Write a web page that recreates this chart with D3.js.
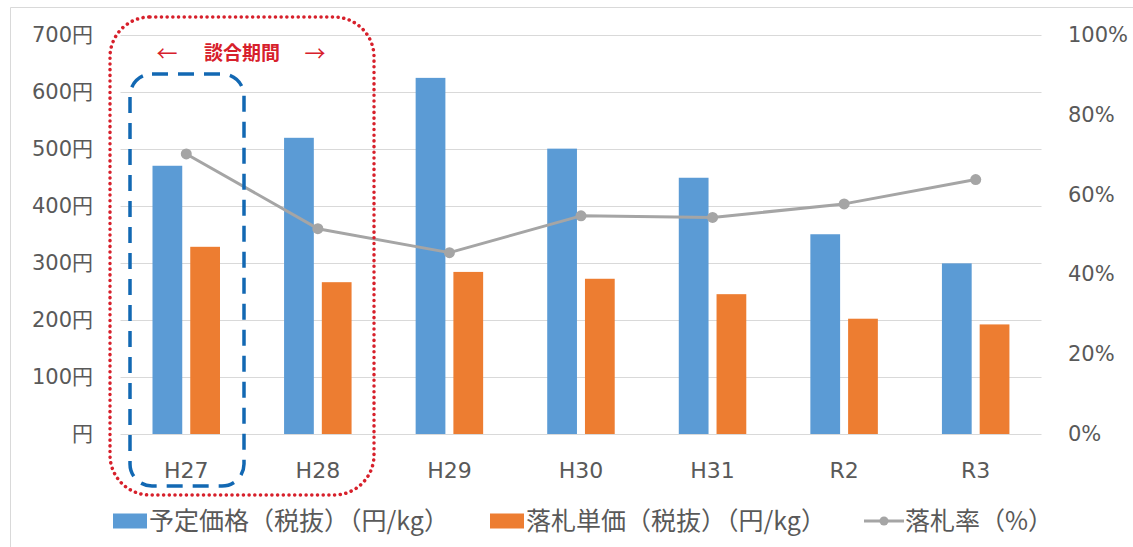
<!DOCTYPE html>
<html>
<head>
<meta charset="utf-8">
<script src="https://cdn.jsdelivr.net/npm/d3@7"></script>
<style>
  html, body { margin: 0; padding: 0; background: #fff; }
  svg text { font-family: "Noto Sans CJK JP", "Noto Sans", sans-serif; fill: #595959; }
  svg .axis text { font-family: "DejaVu Sans", "Noto Sans CJK JP", sans-serif; }
</style>
</head>
<body>
<svg id="chart" width="1133" height="547"></svg>
<script>
// Data
const categories = ["H27", "H28", "H29", "H30", "H31", "R2", "R3"];
const plannedPrice = [470, 519, 624, 500, 449, 350, 299];   // 予定価格(税抜)
const winningPrice = [328, 266, 284, 272, 245, 202, 192];   // 落札単価(税抜)
const winningRate = [0.701, 0.514, 0.454, 0.546, 0.542, 0.576, 0.637]; // 落札率
const leftTicks = [0, 100, 200, 300, 400, 500, 600, 700];
const rightTicks = [0, 0.2, 0.4, 0.6, 0.8, 1.0];

const legendItems = [
    { label: "予定価格（税抜）（円/kg）", type: "bar", color: "#5b9bd5" },
    { label: "落札単価（税抜）（円/kg）", type: "bar", color: "#ed7d31" },
    { label: "落札率（%）", type: "line", color: "#a5a5a5" }
];

const svg = d3.select("#chart");

// frame
svg.append("path")
    .attr("d", "M10.5,547 V7.5 H1133")
    .attr("fill", "none")
    .attr("stroke", "#d9d9d9")
    .attr("stroke-width", 1);

// scales
const x = d3.scaleBand().domain(categories).range([120.5, 1041.5]);
const x1 = d3.scaleBand().domain(["planned", "winning"]).range([32, 99.5]).paddingInner(0.212);
const y = d3.scaleLinear().domain([0, 700]).range([434, 34.5]);
const y2 = d3.scaleLinear().domain([0, 1]).range([434, 34.5]);

// gridlines
svg.append("g")
    .selectAll("line")
    .data(leftTicks)
    .join("line")
    .attr("x1", x.range()[0])
    .attr("x2", x.range()[1])
    .attr("y1", d => Math.round(y(d)) + 0.5)
    .attr("y2", d => Math.round(y(d)) + 0.5)
    .attr("stroke", "#d9d9d9")
    .attr("stroke-width", 1.2);

function styleAxis(g, size) {
    g.select(".domain").remove();
    g.selectAll("text").attr("font-size", size).attr("fill", "#595959").attr("font-family", null);
}

// left axis labels
const leftAxis = d3.axisLeft(y).tickValues(leftTicks)
    .tickFormat(d => (d === 0 ? "" : d) + "円").tickSize(0).tickPadding(0);
svg.append("g")
    .attr("class", "axis")
    .attr("transform", "translate(93,0)")
    .call(leftAxis)
    .call(g => styleAxis(g, 21));

// right axis labels
const rightAxis = d3.axisRight(y2).tickValues(rightTicks)
    .tickFormat(d3.format(".0%")).tickSize(0).tickPadding(0);
svg.append("g")
    .attr("class", "axis")
    .attr("transform", "translate(1068,0)")
    .call(rightAxis)
    .call(g => styleAxis(g, 21));

// bottom axis labels
const bottomAxis = d3.axisBottom(x).tickSize(0).tickPadding(0);
svg.append("g")
    .attr("class", "axis")
    .attr("transform", "translate(0,462)")
    .call(bottomAxis)
    .call(g => styleAxis(g, 22));

// bars
const rows = categories.map((c, i) => ({ cat: c, planned: plannedPrice[i], winning: winningPrice[i] }));
const barColors = { planned: "#5b9bd5", winning: "#ed7d31" };

svg.append("g")
    .selectAll("g")
    .data(rows)
    .join("g")
    .attr("transform", d => `translate(${x(d.cat)},0)`)
    .selectAll("rect")
    .data(d => ["planned", "winning"].map(k => ({ key: k, value: d[k] })))
    .join("rect")
    .attr("x", d => x1(d.key))
    .attr("width", x1.bandwidth())
    .attr("y", d => y(d.value))
    .attr("height", d => y(0) - y(d.value))
    .attr("fill", d => barColors[d.key]);

// rate line
const rateData = categories.map((c, i) => ({ cat: c, v: winningRate[i] }));
const line = d3.line()
    .x(d => x(d.cat) + x.bandwidth() / 2)
    .y(d => y2(d.v));

svg.append("path")
    .datum(rateData)
    .attr("d", line)
    .attr("fill", "none")
    .attr("stroke", "#a5a5a5")
    .attr("stroke-width", 3)
    .attr("stroke-linejoin", "round");

svg.append("g")
    .selectAll("circle")
    .data(rateData)
    .join("circle")
    .attr("cx", d => x(d.cat) + x.bandwidth() / 2)
    .attr("cy", d => y2(d.v))
    .attr("r", 5.5)
    .attr("fill", "#a5a5a5");

// annotation: 談合期間 (red dotted) and H27 (blue dashed)
svg.append("rect")
    .attr("x", 110).attr("y", 17)
    .attr("width", 264).attr("height", 478)
    .attr("rx", 40).attr("ry", 40)
    .attr("fill", "none")
    .attr("stroke", "#d7202b")
    .attr("stroke-width", 3.5)
    .attr("stroke-linecap", "round")
    .attr("stroke-dasharray", "0.1 5.6");

svg.append("rect")
    .attr("x", 130).attr("y", 74)
    .attr("width", 114).attr("height", 412)
    .attr("rx", 22).attr("ry", 22)
    .attr("fill", "none")
    .attr("stroke", "#1268b3")
    .attr("stroke-width", 3.5)
    .attr("stroke-dasharray", "16 10");

const note = svg.append("g");
note.append("text")
    .attr("x", 242).attr("y", 60)
    .attr("text-anchor", "middle")
    .attr("font-size", 19).attr("font-weight", "bold")
    .style("fill", "#d7202b")
    .text("談合期間");
note.append("text")
    .attr("x", 167).attr("y", 61)
    .attr("text-anchor", "middle")
    .attr("font-size", 21)
    .style("fill", "#d7202b")
    .text("←");
note.append("text")
    .attr("x", 315).attr("y", 61)
    .attr("text-anchor", "middle")
    .attr("font-size", 21)
    .style("fill", "#d7202b")
    .text("→");

// legend
const legendX = [113, 490, 864];
const legend = svg.append("g");
legendItems.forEach((item, i) => {
    const g = legend.append("g").attr("transform", `translate(${legendX[i]},521)`);
    if (item.type === "bar") {
        g.append("rect").attr("x", 0).attr("y", -7.5).attr("width", 34).attr("height", 15).attr("fill", item.color);
        g.append("text").attr("x", 36).attr("y", 9).attr("font-size", 25).text(item.label);
    } else {
        g.append("line").attr("x1", 0).attr("x2", 40).attr("y1", 0).attr("y2", 0)
            .attr("stroke", item.color).attr("stroke-width", 3);
        g.append("circle").attr("cx", 20).attr("cy", 0).attr("r", 4.5).attr("fill", item.color);
        g.append("text").attr("x", 41).attr("y", 9).attr("font-size", 25).text(item.label);
    }
});
</script>
</body>
</html>
